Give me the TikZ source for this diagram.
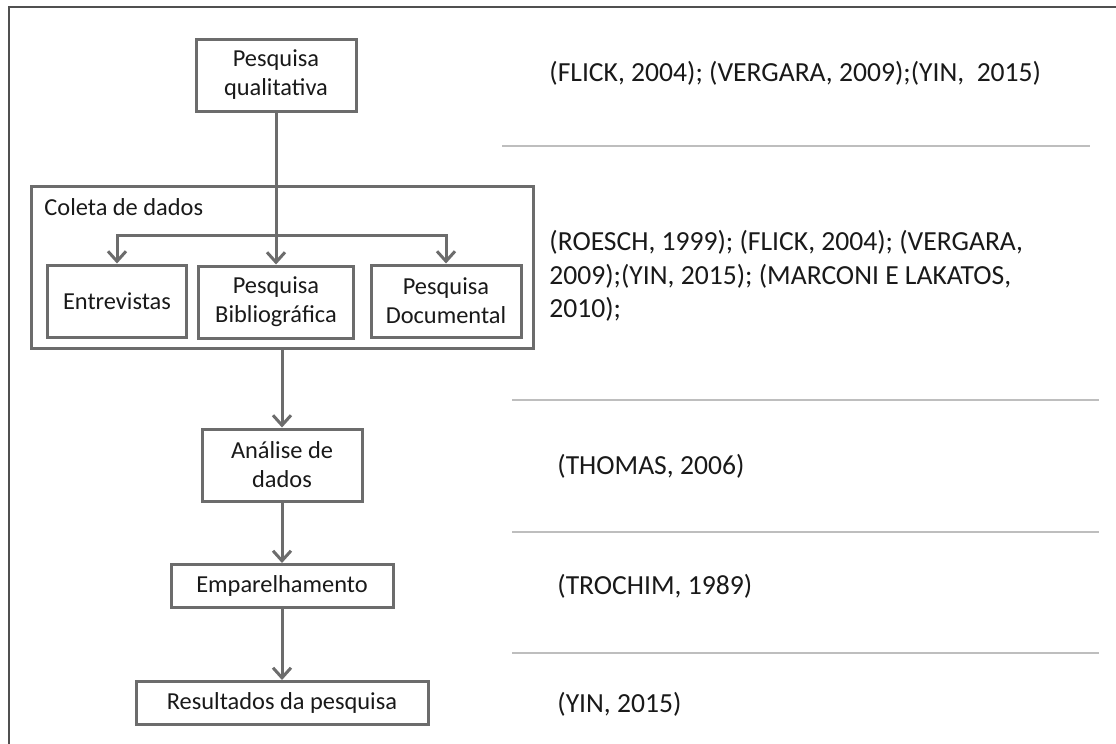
\documentclass[tikz,border=0pt]{standalone}
\usepackage{fontspec}
\setmainfont{Carlito}
\usepackage{xcolor}
\definecolor{boxgray}{RGB}{108,108,108}
\definecolor{rulegray}{RGB}{190,190,190}
\definecolor{framegray}{RGB}{80,80,80}
\definecolor{textdark}{RGB}{25,25,25}
\usepackage{tikz}
\usetikzlibrary{arrows.meta}
\newcommand{\heightstep}{36pt}
\newcommand{\heightflat}{21.5pt}
\newcommand{\boxsize}{\fontsize{12.2}{14.5}\selectfont}
\newcommand{\citesize}{\fontsize{13.8}{16.8}\selectfont}
\tikzset{
    common/.style={draw=boxgray, line width=1.5pt, rectangle, align=center, inner sep=0pt, text=textdark, font=\boxsize},
    stepbox/.style={common, minimum height=\heightstep},
    flatbox/.style={common, minimum height=\heightflat},
    group/.style={common, minimum width=251pt, minimum height=81pt},
    label/.style={anchor=west, inner sep=0pt, text=textdark, font=\boxsize},
    cite/.style={anchor=west, align=left, inner sep=0pt, text=textdark, font=\citesize},
    flow/.style={draw=boxgray, line width=1.5pt, -{Straight Barb[length=5pt,width=9pt]}},
    sep/.style={draw=rulegray, line width=0.8pt}
}
\begin{document}
\begin{tikzpicture}[x=0.5pt, y=-0.5pt]
    \useasboundingbox (0,0) rectangle (1116,744);
    \draw[framegray, line width=1pt] (9,744) -- (9,7) -- (1116,7);

    \node[stepbox, minimum width=80pt] (qual) at (276,75) {Pesquisa\\qualitativa};
    \node[group] (coleta) at (282,267) {};
    \node[label] (coletalabel) at (44,207) {Coleta de dados};
    \node[stepbox, minimum width=69.5pt] (entrev) at (117,301) {Entrevistas};
    \node[stepbox, minimum width=77.5pt] (biblio) at (276,302) {Pesquisa\\Bibliográfica};
    \node[stepbox, minimum width=75pt] (docum) at (446,301) {Pesquisa\\Documental};
    \coordinate (split) at (276,235);
    \node[stepbox, minimum width=80pt] (analise) at (282,465) {Análise de\\dados};
    \node[flatbox, minimum width=111pt] (empar) at (282,586) {Emparelhamento};
    \node[flatbox, minimum width=146pt] (result) at (282,703) {Resultados da pesquisa};

    \draw[flow] (qual) -- (biblio);
    \draw[flow] (split) -| (entrev.north);
    \draw[flow] (split) -| (docum.north);
    \draw[flow] (coleta) -- (analise);
    \draw[flow] (analise) -- (empar);
    \draw[flow] (empar) -- (result);

    \draw[sep] (502,146) -- (1090,146);
    \draw[sep] (512,400) -- (1099,400);
    \draw[sep] (512,532) -- (1099,532);
    \draw[sep] (512,653) -- (1099,653);

    \node[cite] (refqual) at (549,73) {(FLICK, 2004); (VERGARA, 2009);(YIN, \ 2015)};
    \node[cite] (refcoleta) at (549,276) {(ROESCH, 1999); (FLICK, 2004); (VERGARA,\\2009);(YIN, 2015); (MARCONI E LAKATOS,\\2010);};
    \node[cite] (refanalise) at (557,466) {(THOMAS, 2006)};
    \node[cite] (refempar) at (557,586) {(TROCHIM, 1989)};
    \node[cite] (refresult) at (557,704) {(YIN, 2015)};
\end{tikzpicture}
\end{document}
